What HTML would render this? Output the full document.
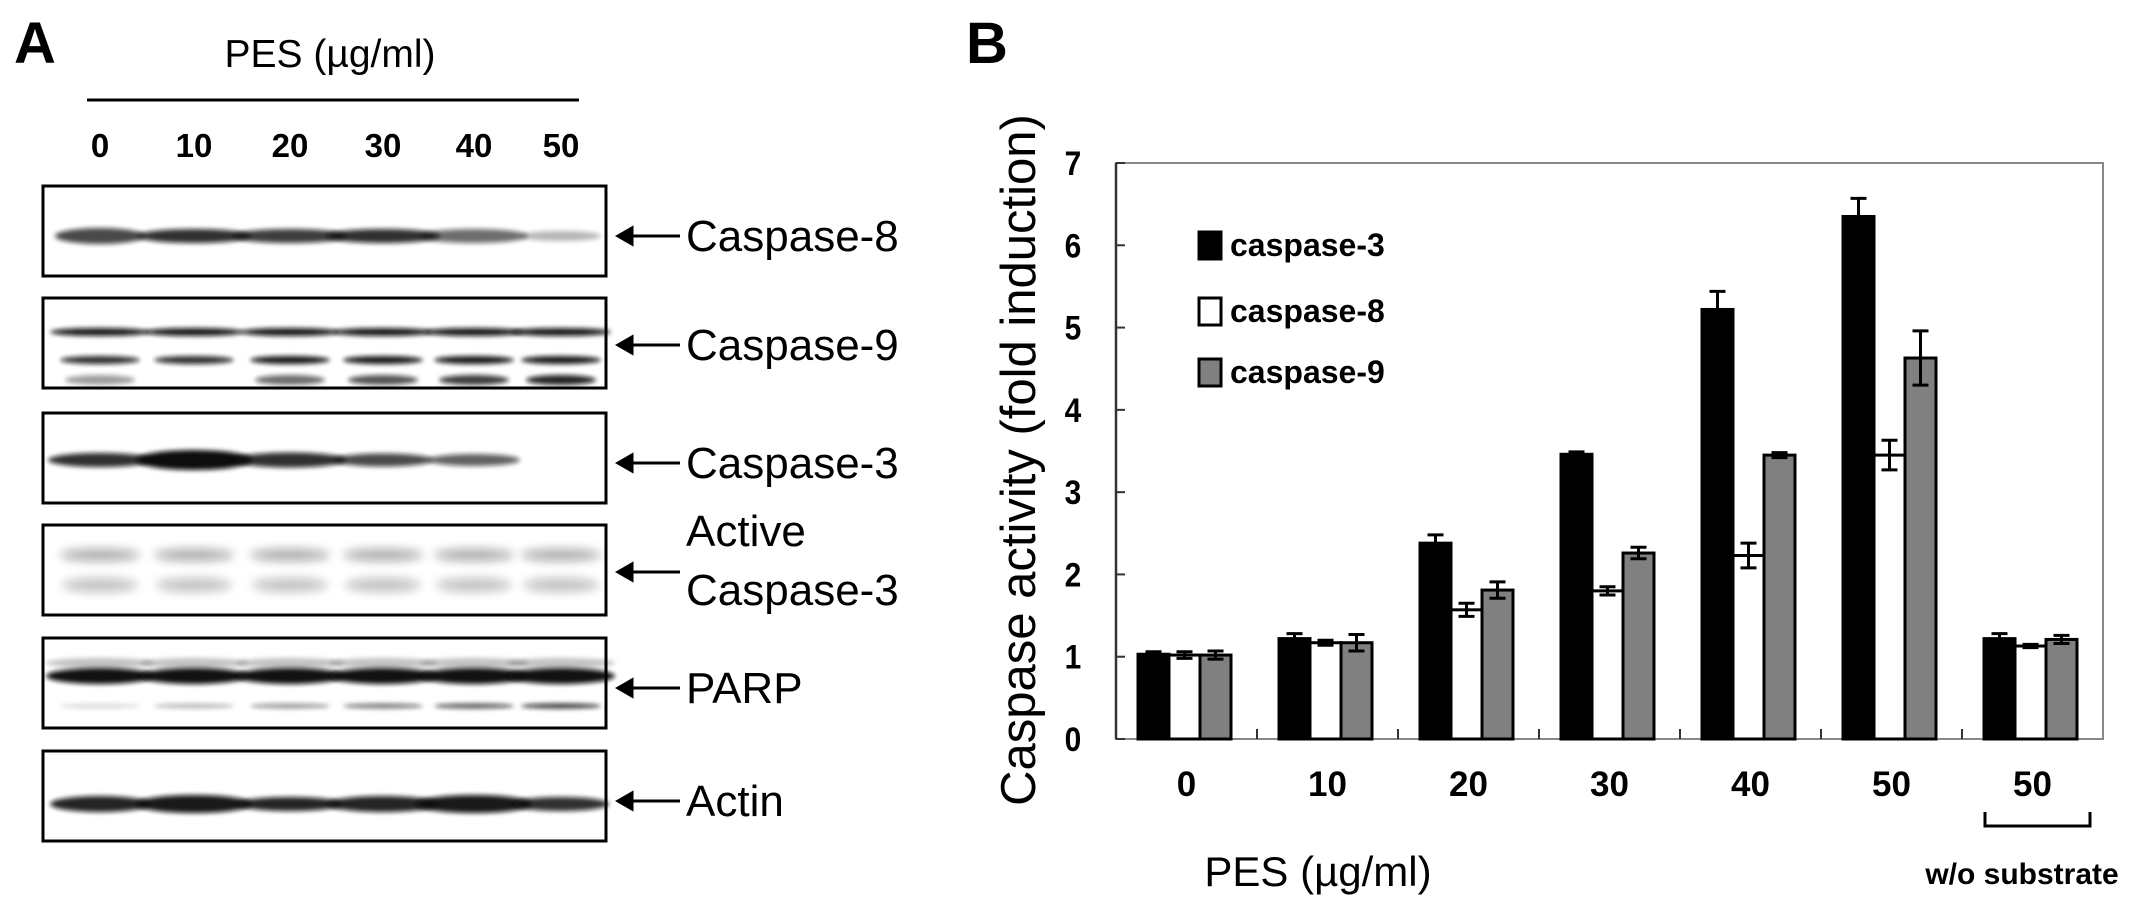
<!DOCTYPE html>
<html><head><meta charset="utf-8"><style>
body{margin:0;background:#fff;}
svg text{font-family:"Liberation Sans",Arial,sans-serif;}
</style></head><body>
<svg width="2149" height="911" viewBox="0 0 2149 911" xmlns="http://www.w3.org/2000/svg">
<defs>
<filter id="bl" x="-20%" y="-100%" width="140%" height="300%"><feGaussianBlur stdDeviation="2.5"/></filter>
<filter id="bl2" x="-20%" y="-100%" width="140%" height="300%"><feGaussianBlur stdDeviation="5"/></filter>
</defs>
<g id="panelA">
<text x="14" y="63" font-size="58" font-weight="bold">A</text>
<text x="330" y="67" font-size="39" text-anchor="middle">PES (µg/ml)</text>
<line x1="87" y1="100" x2="579" y2="100" stroke="#000" stroke-width="3"/>
<g id="laneLabels" font-size="33" font-weight="bold" text-anchor="middle"></g>
<g id="blots"></g>
</g>
<g id="panelB">
<text x="966" y="63" font-size="58" font-weight="bold">B</text>
<text transform="translate(1035,460) rotate(-90)" font-size="49" text-anchor="middle">Caspase activity (fold induction)</text>
<g id="chart"></g>
<text x="1318" y="886" font-size="42" text-anchor="middle">PES (µg/ml)</text>
<path d="M1985 812 V826 H2090 V812" fill="none" stroke="#000" stroke-width="3"/>
<text x="2022" y="884" font-size="30" font-weight="bold" text-anchor="middle">w/o substrate</text>
</g>
</svg>
<script>
const categories=["0","10","20","30","40","50","50"];
const series=["caspase-3","caspase-8","caspase-9"];
const c3=[1.03,1.22,2.38,3.46,5.22,6.35,1.22];
const c3err=[0.03,0.06,0.1,0.03,0.22,0.22,0.06];
const c8=[1.02,1.17,1.57,1.8,2.23,3.45,1.13];
const c8err=[0.04,0.03,0.08,0.05,0.15,0.18,0.02];
const c9=[1.02,1.17,1.81,2.26,3.45,4.63,1.21];
const c9err=[0.05,0.1,0.1,0.07,0.03,0.33,0.05];
const yTicks=[0,1,2,3,4,5,6,7];
const laneLabels=["0","10","20","30","40","50"];
const blotNames=["Caspase-8","Caspase-9","Caspase-3","Active Caspase-3","PARP","Actin"];

const NS="http://www.w3.org/2000/svg";
function mk(tag,attrs,parent){const e=document.createElementNS(NS,tag);for(const k in attrs)e.setAttribute(k,attrs[k]);parent.appendChild(e);return e;}
const X0=1116,X1=2103,Y0=739,Y1=163,YMAX=7;
const y=v=>Y0-(v/YMAX)*(Y0-Y1);
const band=(X1-X0)/categories.length;
const xc=i=>X0+band*i;
const ch=document.getElementById('chart');
const frame=mk('rect',{x:X0,y:Y1,width:X1-X0,height:Y0-Y1,fill:'none',stroke:'#888',"stroke-width":2},ch);


const yl=mk('line',{x1:X0,y1:Y1,x2:X0,y2:Y0,stroke:'#333',"stroke-width":2.5},ch);


yTicks.forEach(t=>{
  const l=mk('line',{x1:X0,y1:y(t),x2:X0+9,y2:y(t),stroke:'#333',"stroke-width":2},ch);
  
  
  const tx=mk('text',{x:1073,y:y(t)+12,"font-size":34,"font-weight":"bold","text-anchor":"middle",transform:`translate(${1073*0.12},0) scale(0.88,1)`},ch);
  tx.textContent=t;
  
  
});
categories.forEach((c,i)=>{
  if(i>0){const l=mk('line',{x1:xc(i),y1:Y0,x2:xc(i),y2:Y0-10,stroke:'#333',"stroke-width":2},ch);
  
  }
  const tx=mk('text',{x:xc(i)+band/2,y:796,"font-size":35,"font-weight":"bold","text-anchor":"middle"},ch);
  tx.textContent=c;
  
  
});
const vals=[c3,c8,c9],errs=[c3err,c8err,c9err],fills=['#000','#fff','#808080'];
const BW=31,OFF=22;
categories.forEach((c,i)=>{
  vals.forEach((arr,s)=>{
    const bx=xc(i)+OFF+s*BW;
    const r=mk('rect',{x:bx,y:y(arr[i]),width:BW,height:Y0-y(arr[i]),fill:fills[s],stroke:'#000',"stroke-width":3},ch);
    
    
    const cx=bx+BW/2,e=errs[s][i];
    const p=mk('path',{d:`M${cx} ${y(arr[i]+e)} V${y(arr[i]-e)} M${cx-8} ${y(arr[i]+e)} H${cx+8} M${cx-8} ${y(arr[i]-e)} H${cx+8}`,stroke:'#000',"stroke-width":3,fill:'none'},ch);
    
    
  });
});
const lgY=[244,310,371];
series.forEach((s,k)=>{
  const r=mk('rect',{x:1199,y:lgY[k]-12,width:22,height:27,fill:fills[k],stroke:'#000',"stroke-width":3},ch);
  
  
  const t=mk('text',{x:1230,y:lgY[k]+12,"font-size":32,"font-weight":"bold"},ch);
  t.textContent=s;
  
  
});
const lanesX=[100,194,290,383,474,561];
const ll=document.getElementById('laneLabels');
laneLabels.forEach((l,i)=>{const t=mk('text',{x:lanesX[i],y:157},ll);t.textContent=l;

});
const boxY=[186,298,413,525,638,751],BH=90;
const bl=document.getElementById('blots');
const bandsDef=[
 [[45,0.75,16,1],[57,0.85,14,1],[57,0.8,14,1],[57,0.85,14,1],[54,0.6,14,1],[40,0.3,10,1]],
 null,
 [[52,0.85,14,0],[58,1,20,0],[56,0.85,15,0],[50,0.75,13,0],[46,0.65,12,0],[0,0,0,0]],
 null,null,
 [[50,0.9,16,0],[58,0.95,18,0],[52,0.9,14,0],[56,0.9,16,0],[58,0.95,18,0],[48,0.85,14,0]]
];
const yPos=[50,0,47,0,0,53];
boxY.forEach((by,b)=>{
  const g=mk('g',{},bl);
  
  
  lanesX.forEach((lx,i)=>{
    const add=(dy,w,h,op,f)=>{mk('ellipse',{cx:lx,cy:by+dy,rx:w,ry:h/2,fill:'#111',opacity:op,filter:f||'url(#bl)'},g);};
    if(b===1){add(34,50,8,0.95);add(62,40,8,0.85+(i>1?0.1:0));if(i!==1)add(82,35,10,0.4+i*0.1);}
    else if(b===3){add(30,40,12,0.35,'url(#bl2)');add(60,38,14,0.25,'url(#bl2)');}
    else if(b===4){add(25,54,10,0.25);add(38,54,16,0.98);add(68,40,5,0.15+i*0.14);}
    else{const d=bandsDef[b][i];if(d[0])add(yPos[b],d[0],d[2],d[1]);}
  });
  const r=mk('rect',{x:43,y:by,width:563,height:BH,fill:'none',stroke:'#000',"stroke-width":3},g);
  
  
  const ay=b===3?by+47:by+50-(b===1?3:0);
  const ar=mk('path',{d:`M618 ${ay} H680 M618 ${ay} l14 -8 v16 z`,stroke:'#000',"stroke-width":3,fill:'#000'},g);
  
  
  if(b===3){
    const t1=mk('text',{x:686,y:by+21,"font-size":44},g);t1.textContent='Active';
    
    
    const t2=mk('text',{x:686,y:by+80,"font-size":44},g);t2.textContent='Caspase-3';
    
    
  }else{
    const t=mk('text',{x:686,y:ay+15,"font-size":44},g);t.textContent=blotNames[b];
    
    
  }
});
</script>
</body></html>
